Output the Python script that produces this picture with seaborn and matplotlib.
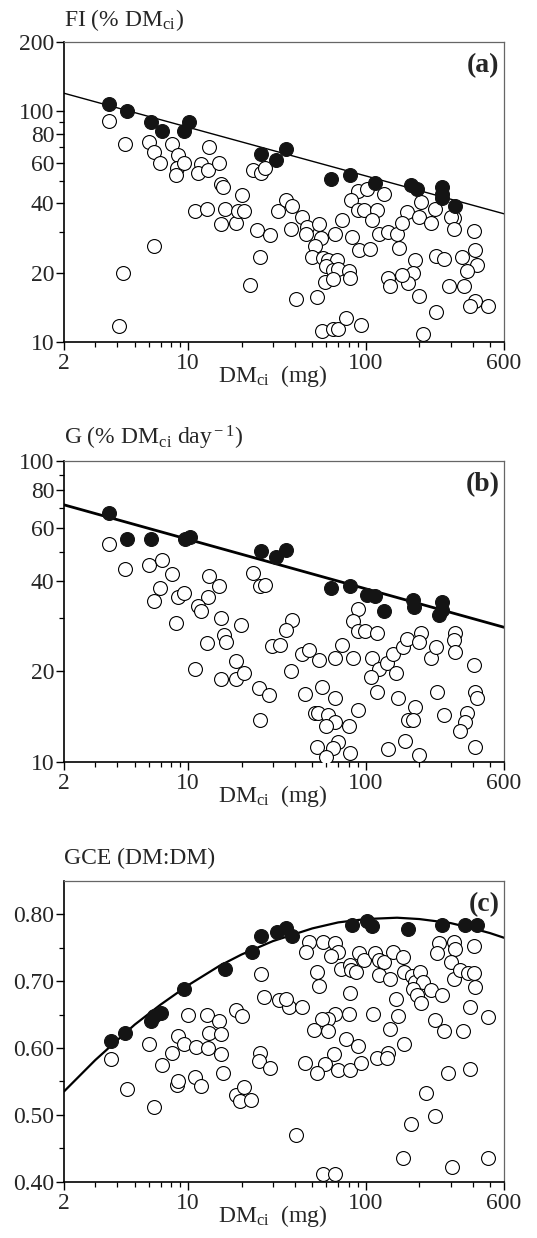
import numpy as np
import pandas as pd
import seaborn as sns
import matplotlib.pyplot as plt
from matplotlib.ticker import NullFormatter

# ---- dados ----
# painel (a): FI (% DM_ci) x DM_ci (mg)
fi_abertos = [
    (3.6, 91), (4.4, 72), (6.0, 74), (6.4, 67), (6.9, 60), (8.1, 72), (8.8, 65), (8.6, 57),
    (8.5, 53), (9.5, 60), (11.8, 59), (11.4, 54), (13.1, 70), (13, 56), (15, 60), (15.4, 48.5),
    (15.8, 47), (10.9, 37), (12.7, 37.6), (16.1, 37.6), (15.4, 32.4), (18.5, 33), (20.1, 43.5),
    (19.1, 37), (20.7, 37), (24.5, 30.5), (25.3, 23.4), (22.3, 17.6), (23.1, 55.5), (25.6, 54),
    (27, 57), (6.4, 26), (4.3, 20), (4.1, 11.7), (29, 29), (32, 37),
    (35.5, 41.5), (38.6, 39), (44, 35), (37.8, 31), (46.7, 31.6), (46, 29.3), (54.6, 32.4),
    (56, 28.3), (52, 26), (49.7, 23.4), (57.7, 23.2), (67, 29.5), (73.5, 34), (61.5, 22.8),
    (69, 22.8), (60, 21.4), (65.5, 20.5), (70, 20.8), (59, 18.2), (65.5, 18.8), (80, 20.3),
    (82, 19), (53, 15.7), (40.7, 15.3), (57, 11.2), (65.5, 11.4), (70, 11.4), (77.6, 12.7),
    (94, 11.9), (210, 10.8), (248, 13.5),
    (90, 45), (101, 46), (126, 44), (83, 41.5), (205, 40.5), (90, 37.3), (98, 37.5), (116, 37.3),
    (170, 36.6), (246, 37.8), (313, 34.6), (109, 34), (199, 34.9), (233, 32.9), (300, 35),
    (118, 29.3), (134, 30), (150, 29.3), (159, 32.7), (313, 30.8), (404, 30.3), (84, 28.5),
    (91, 25), (106, 25.4), (153, 25.6), (248, 23.6), (276, 23), (348, 23.4), (413, 25),
    (422, 21.5), (189, 22.7), (371, 20.3), (185, 20), (134, 19), (137, 17.5), (173, 18),
    (159, 19.6), (294, 17.5), (356, 17.5), (199, 15.9), (413, 15), (387, 14.4), (485, 14.4),
]
fi_cheios = [
    (3.6, 108), (4.5, 101), (6.2, 90), (7.1, 82), (9.5, 82), (10.1, 90), (25.8, 65.5),
    (31.2, 61.5), (35.6, 68.5), (64, 51), (82, 53), (113, 49), (180, 48), (195, 46),
    (268, 47), (268, 44), (270, 42), (318, 39),
]
fi_reta_x = [2, 600]
fi_reta_y = [120, 36]

# painel (b): G (% DM_ci dia-1)
g_abertos = [
    (3.6, 53), (4.4, 43.6), (6.05, 45), (7.1, 47), (8.1, 42), (6.9, 37.7), (6.4, 34.3),
    (8.75, 35.4), (9.5, 36.5), (8.55, 29), (13.1, 41.5), (15, 38.4), (13, 35.4), (11.4, 33),
    (11.8, 31.6), (15.4, 30), (16, 26.4), (16.3, 25), (12.7, 24.8), (19.9, 28.5), (10.9, 20.4),
    (15.4, 18.9), (18.5, 18.9), (18.5, 21.7), (20.6, 19.8), (23.1, 42.3), (25.3, 38.4),
    (27, 38.6), (25.1, 17.6), (28.6, 16.7), (25.3, 13.8), (29.6, 24.3),
    (38.3, 29.6), (35.5, 27.5), (32.9, 24.4), (37.8, 20.1), (43.9, 22.9), (47.7, 23.5),
    (54.6, 21.8), (73.5, 24.4), (67.4, 22.1), (84.4, 22.1), (90, 32.1), (84.4, 29.4),
    (90.7, 27.3), (98.7, 27.3), (116, 26.9), (45.3, 16.8), (56.5, 17.7), (67.4, 16.3),
    (90.7, 14.9), (51.9, 14.5), (54, 14.5), (61.5, 14.3), (67.4, 13.6), (60, 13.1), (80, 13.1),
    (53, 11.2), (70, 11.6), (65.5, 11.1), (82, 10.7), (59.4, 10.4), (116, 17.1), (109, 22.1),
    (118, 20.4), (106.5, 19.2), (132, 21.3), (143, 22.8), (148, 19.7), (161, 24), (170, 25.5),
    (205, 26.9), (199, 25.1), (151, 16.3), (189, 15.2), (173, 13.8), (185, 13.8), (166, 11.7),
    (134, 11), (199, 10.5), (233, 22.1), (248, 24), (253, 17.1), (276, 14.3), (318, 26.9),
    (313, 25.4), (318, 23.2), (404, 21), (413, 17.1), (422, 16.3), (371, 14.5), (364, 13.6),
    (341, 12.7), (413, 11.2),
]
g_cheios = [
    (3.6, 67), (4.5, 55), (6.2, 55), (9.6, 55), (10.2, 56), (25.6, 50.3), (31.2, 48),
    (35.6, 50.6), (64, 37.7), (82, 38.4), (101, 35.8), (113, 35.6), (126, 31.6),
    (185, 34.5), (187, 32.8), (268, 34), (268, 32), (259, 30.8),
]
g_reta_x = [2, 600]
g_reta_y = [71.5, 28]

# painel (c): GCE (DM:DM)
gce_abertos = [
    (3.7, 0.583), (4.5, 0.539), (6.05, 0.606), (6.4, 0.511), (7.1, 0.575), (8.1, 0.593),
    (8.8, 0.618), (8.6, 0.545), (8.8, 0.550), (9.5, 0.606), (10, 0.649), (10.9, 0.556),
    (11.8, 0.543), (11.0, 0.602), (12.7, 0.649), (13.1, 0.622), (13, 0.600), (15, 0.641),
    (15.4, 0.621), (15.4, 0.591), (15.8, 0.562), (18.5, 0.657), (20.1, 0.648), (18.5, 0.530),
    (19.5, 0.521), (20.6, 0.542), (22.6, 0.522), (25.6, 0.711), (26.7, 0.676), (25.3, 0.593),
    (25.1, 0.580), (29, 0.570), (40.6, 0.470),
    (47.7, 0.759), (46.1, 0.743), (57.7, 0.759), (67.4, 0.757), (69.8, 0.743), (64, 0.737),
    (72.8, 0.718), (81, 0.724), (83, 0.717), (88, 0.714), (91, 0.742), (98, 0.732),
    (113, 0.742), (118, 0.732), (126, 0.729), (118, 0.709), (136, 0.704), (143, 0.743),
    (161, 0.736), (164, 0.714), (181, 0.708), (189, 0.699), (201, 0.714), (210, 0.699),
    (185, 0.689), (194, 0.679), (205, 0.667), (233, 0.687), (268, 0.679), (259, 0.757),
    (253, 0.742), (313, 0.759), (318, 0.748), (300, 0.729), (313, 0.704), (341, 0.717),
    (376, 0.713), (409, 0.713), (413, 0.691), (409, 0.752), (53, 0.714), (54.6, 0.693),
    (81, 0.682), (148, 0.673), (151, 0.648), (137, 0.629), (110, 0.651), (80, 0.651),
    (67.4, 0.651), (61.5, 0.644), (56.5, 0.644), (50.8, 0.627), (61.5, 0.625), (77.6, 0.613),
    (90.7, 0.603), (66.4, 0.591), (58.9, 0.576), (53, 0.562), (70, 0.567), (82, 0.567),
    (94, 0.578), (45.3, 0.578), (32.6, 0.672), (37, 0.661), (35.5, 0.674), (43.9, 0.661),
    (115, 0.585), (134, 0.592), (132, 0.585), (164, 0.606), (246, 0.642), (276, 0.626),
    (351, 0.625), (387, 0.662), (485, 0.646), (292, 0.562), (387, 0.568), (217, 0.533),
    (246, 0.498), (179, 0.486), (161, 0.435), (307, 0.422), (489, 0.435), (57.7, 0.412),
    (67.4, 0.412),
]
gce_cheios = [
    (3.7, 0.610), (4.4, 0.622), (6.2, 0.641), (6.4, 0.648), (7.0, 0.653), (9.5, 0.688),
    (16.1, 0.718), (22.9, 0.744), (25.8, 0.768), (31.5, 0.774), (35.5, 0.779), (38.6, 0.767),
    (84, 0.784), (102, 0.790), (109, 0.782), (173, 0.778), (268, 0.784), (360, 0.784),
    (422, 0.784),
]
gce_curva_x = [2, 3, 4, 5, 7, 10, 15, 20, 30, 50, 70, 100, 150, 200, 300, 400, 500, 600]
gce_curva_y = [0.535, 0.582, 0.612, 0.635, 0.665, 0.694, 0.723, 0.740, 0.760, 0.779,
               0.788, 0.793, 0.795, 0.793, 0.787, 0.779, 0.772, 0.765]

# ---- estilo ----
sns.set_theme(style="ticks")
plt.rcParams["font.family"] = ["Liberation Serif", "DejaVu Serif"]
plt.rcParams["mathtext.fontset"] = "custom"
plt.rcParams["mathtext.rm"] = "Liberation Serif"
plt.rcParams["mathtext.it"] = "Liberation Serif:italic"

FS = 17

fig = plt.figure(figsize=(5.37, 12.38), dpi=100)
ax_a = fig.add_axes([0.1192, 0.7237, 0.8194, 0.2423])
ax_b = fig.add_axes([0.1192, 0.3847, 0.8194, 0.2429])
ax_c = fig.add_axes([0.1192, 0.0455, 0.8194, 0.2429])


def painel(ax, abertos, cheios, lx, ly, lw):
    df_ab = pd.DataFrame(abertos, columns=["dm", "v"])
    df_ch = pd.DataFrame(cheios, columns=["dm", "v"])
    sns.lineplot(x=lx, y=ly, ax=ax, color="black", lw=lw, zorder=2)
    sns.scatterplot(data=df_ab, x="dm", y="v", ax=ax, s=100, color="white",
                    edgecolor="black", linewidth=0.8, zorder=3)
    sns.scatterplot(data=df_ch, x="dm", y="v", ax=ax, s=100, color="#141414",
                    edgecolor="#141414", linewidth=0.8, zorder=4)
    ax.set_xscale("log")
    ax.set_xlim(2, 600)
    ax.set_xticks([2, 10, 100, 600], labels=["2", "10", "100", "600"])
    ax.set_xticks([3, 4, 5, 6, 7, 8, 9, 20, 30, 40, 50, 60, 70, 80, 90,
                   200, 300, 400, 500], minor=True)
    ax.xaxis.set_minor_formatter(NullFormatter())
    ax.set_xlabel(r"DM$_{\rm ci}$  (mg)", fontsize=FS)
    ax.xaxis.set_label_coords(0.475, -0.07)
    ax.set_ylabel("")
    for s in ["left", "bottom"]:
        ax.spines[s].set_color("black")
        ax.spines[s].set_linewidth(1.2)
    for s in ["top", "right"]:
        ax.spines[s].set_color("#666666")
        ax.spines[s].set_linewidth(0.9)
    ax.tick_params(which="major", direction="out", length=6, width=1,
                   labelsize=FS, color="black", pad=1)
    ax.tick_params(which="minor", direction="out", length=3.5, width=0.9, color="black")
    ax.tick_params(axis="x", which="major", pad=2)


painel(ax_a, fi_abertos, fi_cheios, fi_reta_x, fi_reta_y, 1.0)
ax_a.set_yscale("log")
ax_a.set_ylim(10, 200)
ax_a.set_yticks([10, 20, 40, 60, 80, 100, 200],
                labels=["10", "20", "40", "60", "80", "100", "200"])
ax_a.set_yticks([30, 50, 70, 90], minor=True)
ax_a.yaxis.set_minor_formatter(NullFormatter())
ax_a.text(0.0, 1.03, r"FI (% DM$_{\rm ci}$)", transform=ax_a.transAxes,
          fontsize=FS, ha="left", va="bottom")
ax_a.text(0.99, 0.923, "(a)", transform=ax_a.transAxes, fontsize=FS + 3,
          fontweight="bold", ha="right", va="center")

painel(ax_b, g_abertos, g_cheios, g_reta_x, g_reta_y, 2.0)
ax_b.set_yscale("log")
ax_b.set_ylim(10, 100)
ax_b.set_yticks([10, 20, 40, 60, 80, 100],
                labels=["10", "20", "40", "60", "80", "100"])
ax_b.set_yticks([30, 50, 70, 90], minor=True)
ax_b.yaxis.set_minor_formatter(NullFormatter())
ax_b.text(0.0, 1.03, r"G (% DM$_{\rm ci}$ day$^{\rm -1}$)", transform=ax_b.transAxes,
          fontsize=FS, ha="left", va="bottom")
ax_b.text(0.99, 0.92, "(b)", transform=ax_b.transAxes, fontsize=FS + 3,
          fontweight="bold", ha="right", va="center")

painel(ax_c, gce_abertos, gce_cheios, gce_curva_x, gce_curva_y, 1.6)
ax_c.set_ylim(0.40, 0.85)
ax_c.set_yticks([0.40, 0.50, 0.60, 0.70, 0.80],
                labels=["0.40", "0.50", "0.60", "0.70", "0.80"])
ax_c.set_yticks([0.45, 0.55, 0.65, 0.75], minor=True)
ax_c.text(0.0, 1.04, "GCE (DM:DM)", transform=ax_c.transAxes,
          fontsize=FS, ha="left", va="bottom")
ax_c.text(0.99, 0.92, "(c)", transform=ax_c.transAxes, fontsize=FS + 3,
          fontweight="bold", ha="right", va="center")

fig.savefig("out.png", dpi=100, facecolor="white")
